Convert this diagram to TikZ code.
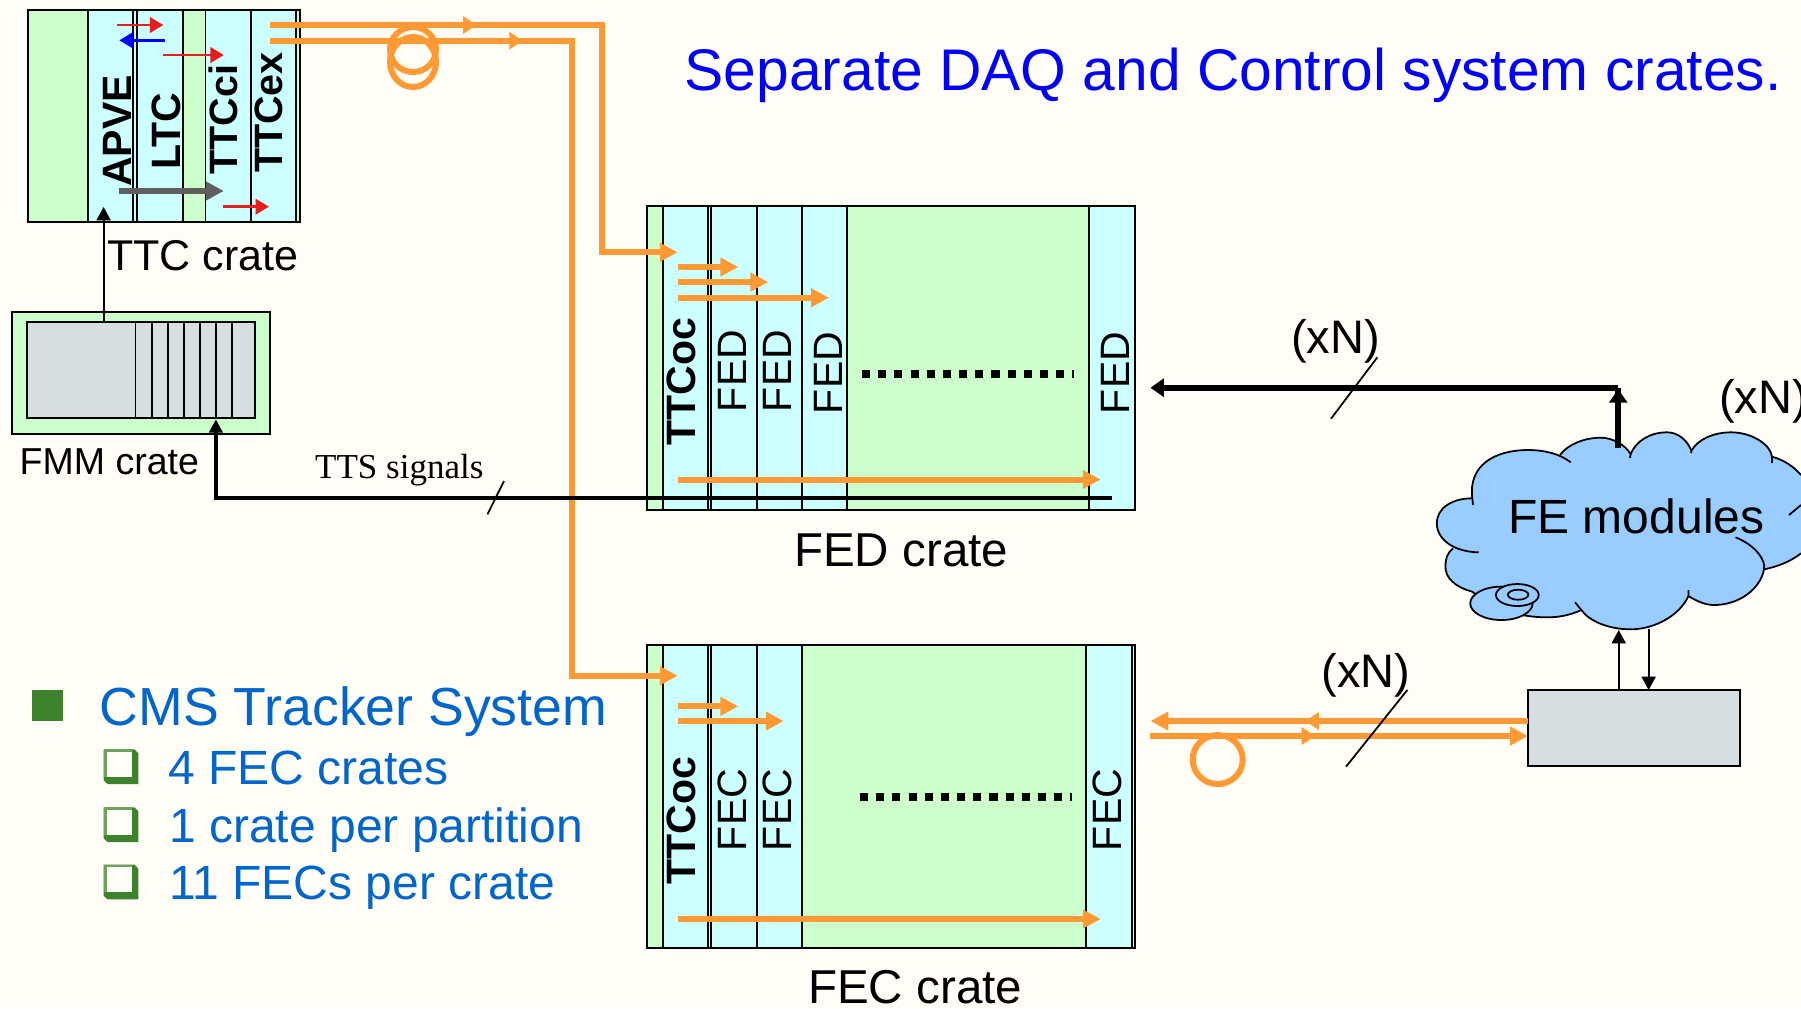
\documentclass[tikz,border=0pt]{standalone}
\usepackage{fontspec}
\setmainfont{Liberation Sans}
\newfontfamily\ttsfont{Liberation Serif}
\definecolor{pagebg}{RGB}{255, 253, 246}
\definecolor{cratefill}{RGB}{204, 255, 204}
\definecolor{slotfill}{RGB}{204, 255, 255}
\definecolor{fibre}{RGB}{255, 153, 51}
\definecolor{boxgray}{RGB}{214, 222, 226}
\definecolor{cloudblue}{RGB}{153, 204, 255}
\definecolor{listblue}{RGB}{0, 102, 204}
\definecolor{bulletgreen}{RGB}{62, 130, 46}
\definecolor{bulletlight}{RGB}{110, 160, 95}
\definecolor{grayarrow}{RGB}{95, 95, 95}
\definecolor{redarrow}{RGB}{230, 30, 30}
\usetikzlibrary{arrows.meta, positioning, shapes.geometric}
\newcommand{\px}[1]{\pgfmathsetmacro{\fsize}{#1*0.2845}\fontsize{\fsize}{\fsize}\selectfont}
\tikzset{
  crate/.style={draw=black, line width=0.55pt, fill=cratefill, rectangle, inner sep=0pt, outer sep=0pt},
  graybox/.style={draw=black, line width=0.55pt, fill=boxgray, rectangle, inner sep=0pt, outer sep=0pt},
  divider/.style={black, line width=0.5pt},
  fibrearrow/.style={fibre, line width=1.7pt, -{Triangle[length=5.1pt, width=5.1pt]}},
  fibremid/.style={fibre, line width=1.7pt, -{Triangle[length=3.8pt, width=4.8pt]}},
  wire/.style={black, line width=0.55pt, -{Triangle[length=3.8pt, width=4pt]}},
  heavy/.style={black, line width=1.2pt, -{Triangle[length=3.8pt, width=3.8pt]}},
  thinred/.style={redarrow, line width=0.7pt, -{Triangle[length=3.8pt, width=4.4pt]}},
  dots/.style={black, line width=2.3pt, dash pattern=on 2.3pt off 2.3pt},
  slash/.style={black, line width=0.5pt},
  boldslot/.style={rotate=90, inner sep=0pt, font=\px{41}\bfseries},
  slot/.style={rotate=90, inner sep=0pt, font=\px{41}},
  caption/.style={anchor=base west, inner sep=0pt},
  coil/.style={draw=fibre, line width=1.7pt}
}
\begin{document}
\begin{tikzpicture}[x=0.01cm, y=-0.01cm]
  \useasboundingbox (0,0) rectangle (1801,1008);
  \fill[pagebg] (0,0) rectangle (1801,1008);
  \clip (0,0) rectangle (1801,1008);
  % TTC crate
  \node[crate, minimum width=2.72cm, minimum height=2.12cm] (ttc) at (163.7,116) {};
  \foreach \a/\b in {87.8/182.7, 205.6/295.8} {
    \fill[slotfill] (\a,10) rectangle (\b,221.7);
  }
  \foreach \x in {87.8,133.3,136.8,182.7,205.6,251,295.8} {
    \draw[divider] (\x,10) -- (\x,221.7);
  }
  \draw[black, line width=0.55pt] (ttc.north west) rectangle (ttc.south east);
  \node[boldslot] (apve) at (117,131) {APVE};
  \node[boldslot] (ltc) at (166,131) {LTC};
  \node[boldslot, font=\px{39.5}\bfseries] (ttcci) at (223.4,119.5) {TTCci};
  \node[boldslot, font=\px{39.5}\bfseries] (ttcex) at (269,112.5) {TTCex};
  \node[caption, font=\px{43}] (ttclabel) at (106.5,270) {TTC crate};
  % Arrows inside the TTC crate
  \draw[thinred] (117.4,25) -- (163.3,25);
  \draw[blue, line width=0.7pt, -{Triangle[length=3.8pt, width=4.4pt]}] (164.5,40.3) -- (119.4,40.3);
  \draw[thinred] (163,55) -- (223.8,55);
  \draw[grayarrow, line width=1.7pt, -{Triangle[length=5.1pt, width=5.1pt]}] (118.6,191) -- (223.8,191);
  \draw[thinred] (223.4,206.7) -- (268.9,206.7);
  % FMM crate
  \node[crate, minimum width=2.58cm, minimum height=1.22cm] (fmm) at (141,373.2) {};
  \node[graybox, minimum width=2.28cm, minimum height=0.96cm] (fmmbox) at (141,369.7) {};
  \foreach \x in {135.6,151.8,168,183.9,200,215.9,232.1} {
    \draw[divider] (\x,321.7) -- (\x,417.7);
  }
  \node[caption, font=\px{37.5}] (fmmlabel) at (19,474.5) {FMM crate};
  \coordinate (apvein) at (103.6,207);
  \draw[wire] (fmmbox.north -| apvein) -- (apvein);
  % FED crate
  \node[crate, minimum width=4.88cm, minimum height=3.04cm] (fed) at (891.3,358) {};
  \fill[slotfill] (663,206) rectangle (847.3,510);
  \fill[slotfill] (1089,206) rectangle (1135.3,510);
  \foreach \x in {663,707.7,710.7,756.7,801.7,847.3,1089} {
    \draw[divider] (\x,206) -- (\x,510);
  }
  \draw[black, line width=0.55pt] (fed.north west) rectangle (fed.south east);
  \node[boldslot] (fedttc) at (681,381.7) {TTCoc};
  \node[slot] (fed1) at (732.7,371) {FED};
  \node[slot] (fed2) at (777.7,371) {FED};
  \node[slot] (fed3) at (828.3,373) {FED};
  \node[slot] (fed4) at (1115.7,373) {FED};
  \node[caption, font=\px{47.5}] (fedlabel) at (793.5,566) {FED crate};
  \draw[dots] (862,374) -- (1074,374);
  \foreach \y/\x in {267/738.3, 282/768.3, 297.7/829, 479.5/1100.7} {
    \draw[fibrearrow] (678,\y) -- (\x,\y);
  }
  % FEC crate
  \node[crate, minimum width=4.88cm, minimum height=3.03cm] (fec) at (891.3,796.7) {};
  \fill[slotfill] (663,645) rectangle (802.3,948.3);
  \fill[slotfill] (1086.3,645) rectangle (1131.7,948.3);
  \foreach \x in {663,707.7,711,757,802.3,1086.3,1131.7} {
    \draw[divider] (\x,645) -- (\x,948.3);
  }
  \draw[black, line width=0.55pt] (fec.north west) rectangle (fec.south east);
  \node[boldslot] (fecttc) at (681.7,820.3) {TTCoc};
  \node[slot] (fec1) at (732.7,810) {FEC};
  \node[slot] (fec2) at (777.7,810) {FEC};
  \node[slot] (fec3) at (1107.7,810) {FEC};
  \node[caption, font=\px{47.5}] (feclabel) at (807.5,1003.5) {FEC crate};
  \draw[dots] (860,797) -- (1071.7,797);
  \foreach \y/\x in {706.3/738.3, 721/783.7, 919/1100.7} {
    \draw[fibrearrow] (678,\y) -- (\x,\y);
  }
  % Fibres from the TTC crate
  \coordinate (tx1) at (269.7,25);
  \coordinate (tx1mid) at (476.5,25);
  \coordinate (tx1end) at (677.7,252.3);
  \coordinate (tx2) at (269.7,40.7);
  \coordinate (tx2mid) at (522.7,40.7);
  \coordinate (tx2end) at (677.7,675.7);
  \draw[coil] (413,49.5) ellipse [x radius=23, y radius=22.5];
  \draw[coil] (413,62) ellipse [x radius=23, y radius=25];
  \draw[fibrearrow] (tx1) -- (601.8,25) -- (601.8,252.3) -- (tx1end);
  \draw[fibremid] (tx1) -- (tx1mid);
  \draw[fibrearrow] (tx2) -- (572,40.7) -- (572,675.7) -- (tx2end);
  \draw[fibremid] (tx2) -- (tx2mid);
  % TTS signals
  \coordinate (ttsstart) at (1112,498);
  \coordinate (ttstip) at (215.9,419.3);
  \draw[heavy] (ttsstart) -| (ttstip);
  \draw[slash] (504,481) -- (487.5,514.3);
  \node[caption, font=\ttsfont\px{35}] (ttslabel) at (314.5,478) {TTS signals};
  % FE modules cloud
  \fill[cloudblue] (1472.3,498.3)
    .. controls (1468,465) and (1495,450) .. (1528,450)
    .. controls (1540,450) and (1552,452) .. (1560,455)
    .. controls (1568,444) and (1585,437.7) .. (1600.7,437.7)
    .. controls (1613,437.7) and (1625,445) .. (1630.6,454)
    .. controls (1636,441) and (1650,432.3) .. (1667,432.3)
    .. controls (1678,432.3) and (1687,440) .. (1691.4,450.7)
    .. controls (1698,439) and (1714,432.3) .. (1731.2,432.3)
    .. controls (1752,432.3) and (1771,445) .. (1771.9,456.7)
    .. controls (1785,460) and (1795,468) .. (1801,475)
    -- (1830,500) -- (1830,540) -- (1801,553.3)
    .. controls (1790,562) and (1776,567) .. (1764,569.3)
    .. controls (1760,590) and (1738,605) .. (1714,605)
    .. controls (1704,605) and (1695,600) .. (1688.4,596)
    .. controls (1680,615) and (1655,629.3) .. (1630.6,629.3)
    .. controls (1607,629.3) and (1588,620) .. (1581.4,610)
    .. controls (1570,615) and (1560,617.3) .. (1547.2,617.3)
    .. controls (1520,617.3) and (1495,610) .. (1472.3,591.7)
    .. controls (1455,587) and (1445.4,578) .. (1445.4,566.7)
    .. controls (1445.4,558) and (1448,552) .. (1453,548.3)
    .. controls (1443,542) and (1436.8,533) .. (1436.8,523.3)
    .. controls (1436.8,508) and (1452,498.3) .. (1472.3,498.3) -- cycle;
  \draw[black, line width=0.5pt] (1473,505) -- (1472.3,498.3)
    .. controls (1468,465) and (1495,450) .. (1528,450)
    .. controls (1545,450) and (1560,454) .. (1570.7,462.3);
  \draw[black, line width=0.5pt] (1560,455)
    .. controls (1568,444) and (1585,437.7) .. (1600.7,437.7)
    .. controls (1613,437.7) and (1625,445) .. (1630.6,454) -- (1630,458);
  \draw[black, line width=0.5pt] (1630.6,454)
    .. controls (1636,441) and (1650,432.3) .. (1667,432.3)
    .. controls (1678,432.3) and (1687,440) .. (1691.4,450.7) -- (1691,453);
  \draw[black, line width=0.5pt] (1691.4,450.7)
    .. controls (1698,439) and (1714,432.3) .. (1731.2,432.3)
    .. controls (1752,432.3) and (1771,445) .. (1771.9,456.7) -- (1772,463);
  \draw[black, line width=0.5pt] (1771.9,456.7) .. controls (1785,460) and (1795,468) .. (1801,475);
  \draw[black, line width=0.5pt] (1789,515) -- (1801,505);
  \draw[black, line width=0.5pt] (1801,553.3) .. controls (1790,562) and (1776,567) .. (1764,569.3);
  \draw[black, line width=0.5pt] (1735.5,537.3)
    .. controls (1755,545) and (1766,560) .. (1764,569.3)
    .. controls (1760,590) and (1738,605) .. (1714,605)
    .. controls (1704,605) and (1695,600) .. (1688.4,596) -- (1688.4,590);
  \draw[black, line width=0.5pt] (1688.4,596)
    .. controls (1680,615) and (1655,629.3) .. (1630.6,629.3)
    .. controls (1607,629.3) and (1588,620) .. (1581.4,610) -- (1575,602.3);
  \draw[black, line width=0.5pt] (1581.4,610)
    .. controls (1570,615) and (1560,617.3) .. (1547.2,617.3)
    .. controls (1520,617.3) and (1495,610) .. (1472.3,591.7)
    .. controls (1455,587) and (1445.4,578) .. (1445.4,566.7)
    .. controls (1445.4,558) and (1448,552) .. (1453,548.3);
  \draw[black, line width=0.5pt] (1478.7,552.3) .. controls (1455,552) and (1436.8,540) .. (1436.8,523.3)
    .. controls (1436.8,508) and (1452,498.3) .. (1472.3,498.3);
  \draw[black, line width=0.5pt, fill=cloudblue] (1501.4,603.3) ellipse [x radius=31.2, y radius=16.7];
  \draw[black, line width=0.5pt, fill=cloudblue] (1517.3,595) ellipse [x radius=21.4, y radius=11];
  \draw[black, line width=0.5pt, fill=cloudblue] (1518.1,594.7) ellipse [x radius=10.3, y radius=5];
  \node[caption, font=\px{48}] (femod) at (1507.5,533.5) {FE modules};
  % Readout to the FED crate
  \coordinate (readstart) at (1618.2,447.7);
  \coordinate (readcorner) at (1618.2,387.7);
  \coordinate (readtip) at (1150.5,387.7);
  \draw[black, line width=1.6pt] (readstart) -- (readcorner);
  \draw[black, line width=1.6pt, -{Triangle[length=3.8pt, width=5.1pt]}] (readstart) -- (1618.2,389.3);
  \draw[black, line width=1.6pt, -{Triangle[length=3.8pt, width=5.1pt]}] (readcorner) -- (readtip);
  \draw[slash] (1377.3,357.3) -- (1331,418.7);
  \node[caption, font=\px{47}] (xn1) at (1290.5,353.5) {(xN)};
  \node[caption, font=\px{47}] (xn2) at (1718.5,413.5) {(xN)};
  % Control box and its links
  \node[graybox, minimum width=2.118cm, minimum height=0.76cm] (ctrl) at (1633.9,728) {};
  \coordinate (uptip) at (1618.7,630);
  \coordinate (downtip) at (1648.6,629);
  \draw[wire] (ctrl.north -| uptip) -- (uptip);
  \draw[wire] (downtip) -- (ctrl.north -| downtip);
  \coordinate (fecout) at (1150.5,721);
  \coordinate (fecoutmid) at (1305.4,721);
  \coordinate (fecin) at (1150,736);
  \coordinate (fecinmid) at (1315,736);
  \draw[coil] (1217.7,759.5) ellipse [x radius=25, y radius=24.5];
  \draw[fibrearrow] (ctrl.west |- fecoutmid) -- (fecout);
  \draw[fibremid] (ctrl.west |- fecoutmid) -- (fecoutmid);
  \draw[fibrearrow] (fecin) -- (ctrl.west |- fecinmid);
  \draw[fibremid] (fecin) -- (fecinmid);
  \draw[slash] (1407.3,690) -- (1346,766.7);
  \node[caption, font=\px{47}] (xn3) at (1321,687) {(xN)};
  % Title and list
  \node[caption, font=\px{58.7}, text=blue] (title) at (684,90) {Separate DAQ and Control system crates.};
  \fill[bulletgreen] (31.6,690) rectangle (63.3,721);
  \node[caption, font=\px{53.6}, text=listblue] (item0) at (99,725) {CMS Tracker System};
  \foreach \y in {749.3,807.3,864.7} {
    \fill[bulletgreen] (103.6,\y) -- (134.6,\y) -- (138.4,\y+4) -- (138.4,\y+34.7) -- (107.6,\y+34.7) -- (103.6,\y+31) -- cycle;
    \fill[bulletlight] (103.6,\y) rectangle (131.7,\y+27.3);
    \fill[pagebg] (106.8,\y+2.3) rectangle (131.7,\y+27.3);
  }
  \node[caption, font=\px{48}, text=listblue] (item1) at (167.5,784) {4 FEC crates};
  \node[caption, font=\px{48}, text=listblue] (item2) at (168.5,842.5) {1 crate per partition};
  \node[caption, font=\px{48}, text=listblue] (item3) at (168.5,899.5) {11 FECs per crate};
\end{tikzpicture}
\end{document}
